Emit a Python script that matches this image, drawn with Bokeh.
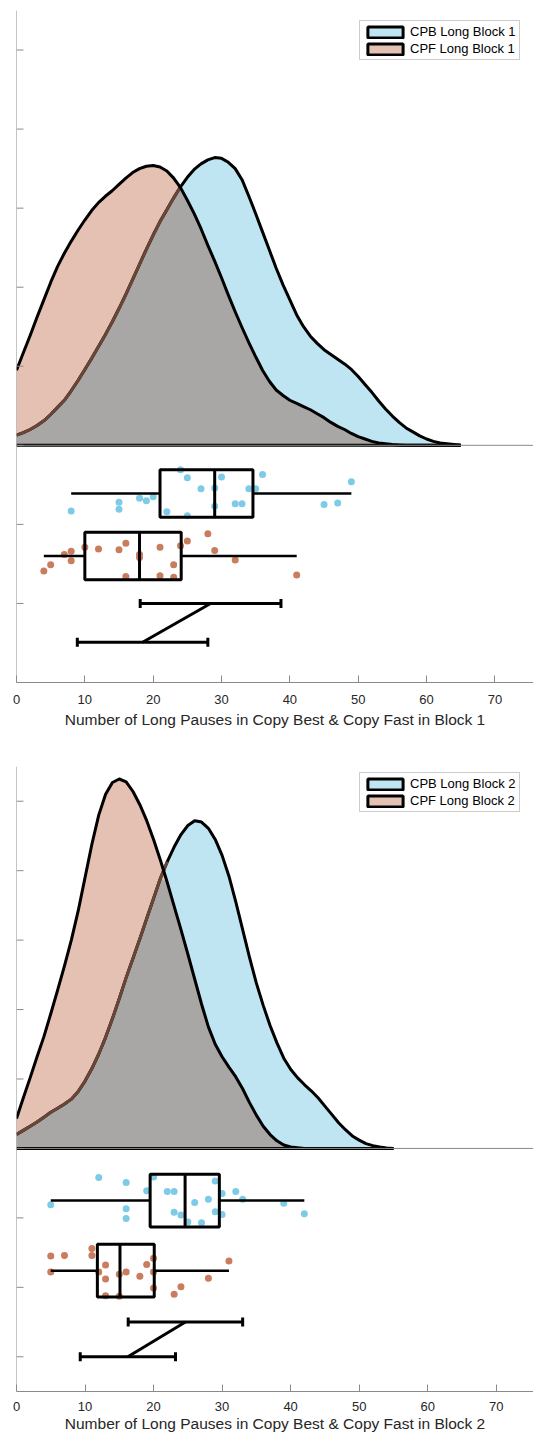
import numpy as np
from bokeh.plotting import figure
from bokeh.layouts import column
from bokeh.models import (FixedTicker, Span, Whisker, TeeHead, Legend, LegendItem,
                          ColumnDataSource, Range1d)
from bokeh.embed import file_html
from bokeh.resources import INLINE

# ---------------- Block 1 ----------------
grid_b1 = list(range(0, 66))          # number of long pauses (density sample positions)
cpb_density_b1 = [0.13, 0.16, 0.20, 0.25, 0.31, 0.39, 0.48, 0.57, 0.69, 0.82,
                  0.96, 1.10, 1.25, 1.40, 1.56, 1.73, 1.91, 2.10, 2.29, 2.48,
                  2.66, 2.83, 2.98, 3.13, 3.27, 3.39, 3.49, 3.56, 3.61, 3.64,
                  3.63, 3.58, 3.50, 3.36, 3.15, 2.93, 2.70, 2.47, 2.24, 2.03,
                  1.84, 1.65, 1.50, 1.38, 1.29, 1.21, 1.15, 1.09, 1.03, 0.96,
                  0.87, 0.77, 0.67, 0.56, 0.46, 0.37, 0.29, 0.22, 0.17, 0.12,
                  0.08, 0.05, 0.03, 0.02, 0.01, 0.0]
cpf_density_b1 = [0.95, 1.17, 1.39, 1.62, 1.84, 2.06, 2.26, 2.43, 2.58, 2.72,
                  2.85, 2.97, 3.07, 3.15, 3.22, 3.30, 3.38, 3.45, 3.50, 3.53,
                  3.54, 3.52, 3.47, 3.38, 3.26, 3.10, 2.93, 2.74, 2.53, 2.33,
                  2.12, 1.90, 1.69, 1.49, 1.30, 1.12, 0.95, 0.81, 0.70, 0.63,
                  0.57, 0.53, 0.49, 0.45, 0.40, 0.35, 0.29, 0.24, 0.20, 0.15,
                  0.11, 0.08, 0.05, 0.03, 0.02, 0.01, 0.005, 0.0, 0.0, 0.0,
                  0.0, 0.0, 0.0, 0.0, 0.0, 0.0]
cpb_pauses_b1 = [24, 25, 30, 36, 49, 27, 29, 34, 35, 20, 18, 19, 15, 15, 8, 22, 25, 29, 32, 33, 45, 47]
cpb_jitter_b1 = [-0.31, -0.41, -0.40, -0.37, -0.46, -0.55, -0.54, -0.55, -0.55, -0.65, -0.67,
                 -0.70, -0.72, -0.81, -0.83, -0.84, -0.89, -0.77, -0.74, -0.74, -0.75, -0.73]
cpf_pauses_b1 = [28, 25, 16, 10, 12, 15, 21, 24, 29, 8, 7, 18, 18, 8, 32, 5, 23, 4, 16, 21, 23, 41]
cpf_jitter_b1 = [-1.12, -1.21, -1.24, -1.29, -1.31, -1.32, -1.29, -1.27, -1.33, -1.34, -1.38,
                 -1.38, -1.42, -1.46, -1.45, -1.51, -1.51, -1.59, -1.66, -1.65, -1.67, -1.64]
box_q1_b1 = [21.0, 10.0]
box_med_b1 = [29.0, 18.0]
box_q3_b1 = [34.6, 24.1]
whisk_lo_b1 = [8.0, 4.0]
whisk_hi_b1 = [49.0, 41.0]
box_pos_b1 = [-0.61, -1.40]
mean_b1 = [28.4, 18.45]
sd_b1 = [10.3, 9.55]
mean_pos_b1 = [-2.0, -2.49]

# ---------------- Block 2 ----------------
grid_b2 = list(range(0, 56))
cpb_density_b2 = [0.20, 0.26, 0.32, 0.38, 0.45, 0.52, 0.58, 0.64, 0.71, 0.82,
                  0.97, 1.15, 1.36, 1.60, 1.87, 2.16, 2.46, 2.74, 3.02, 3.31,
                  3.60, 3.89, 4.13, 4.34, 4.52, 4.65, 4.72, 4.70, 4.61, 4.45,
                  4.22, 3.92, 3.55, 3.15, 2.75, 2.38, 2.06, 1.77, 1.52, 1.30,
                  1.14, 1.02, 0.92, 0.83, 0.73, 0.61, 0.49, 0.37, 0.27, 0.18,
                  0.12, 0.07, 0.04, 0.02, 0.005, 0.0]
cpf_density_b2 = [0.43, 0.73, 1.02, 1.32, 1.61, 1.94, 2.28, 2.63, 3.00, 3.42,
                  3.90, 4.38, 4.80, 5.10, 5.27, 5.32, 5.28, 5.14, 4.95, 4.72,
                  4.45, 4.15, 3.83, 3.49, 3.15, 2.80, 2.44, 2.08, 1.75, 1.50,
                  1.32, 1.17, 1.03, 0.86, 0.66, 0.48, 0.32, 0.20, 0.11, 0.05,
                  0.02, 0.01, 0.0, 0.0, 0.0, 0.0, 0.0, 0.0, 0.0, 0.0,
                  0.0, 0.0, 0.0, 0.0, 0.0, 0.0]
cpb_pauses_b2 = [12, 16, 20, 29, 19, 22, 23, 30, 32, 33, 28, 26, 5, 39, 16, 42, 23, 29, 30, 24, 16, 25, 27]
cpb_jitter_b2 = [-0.42, -0.49, -0.41, -0.47, -0.61, -0.62, -0.62, -0.65, -0.62, -0.73, -0.73, -0.78,
                 -0.81, -0.79, -0.87, -0.94, -0.92, -0.91, -0.95, -0.96, -1.01, -1.06, -1.07]
cpf_pauses_b2 = [11, 5, 7, 11, 20, 31, 13, 19, 5, 12, 16, 15, 20, 18, 28, 13, 24, 20, 23, 13, 15]
cpf_jitter_b2 = [-1.44, -1.55, -1.54, -1.54, -1.58, -1.62, -1.68, -1.67, -1.78, -1.78, -1.78,
                 -1.81, -1.78, -1.84, -1.87, -1.88, -1.99, -2.01, -2.10, -2.12, -2.13]
box_q1_b2 = [19.5, 11.8]
box_med_b2 = [24.6, 15.1]
box_q3_b2 = [29.6, 20.1]
whisk_lo_b2 = [5.0, 5.0]
whisk_hi_b2 = [42.0, 31.0]
box_pos_b2 = [-0.75, -1.76]
mean_b2 = [24.65, 16.25]
sd_b2 = [8.35, 6.95]
mean_pos_b2 = [-2.5, -3.0]

x_ticks = [0, 10, 20, 30, 40, 50, 60, 70]

# ---------------- styles ----------------
BLUE_FILL = "#bfe5f2"
PINK_FILL = "#e5c1b4"
OVERLAP = "#a9a7a6"
BROWN = "#6b4536"
BLUE_DOT = "#7ecbe7"
PINK_DOT = "#c97c5e"
AXIS_GREY = "#8a8a8a"
TEXT = "#262626"
FONT = "Liberation Sans"
LW = 3


def raincloud(grid, dens_b, dens_f, xb, jb, xf, jf, q1, med, q3, wlo, whi, bpos,
              means, sds, mpos, labels, xlabel, width, height, border_left, border_top,
              border_bottom, x_end, y_start, y_end, box_half, legend_loc,
              tick_standoff, label_standoff):
    p = figure(width=width, height=height, output_backend="svg", toolbar_location=None,
               x_range=Range1d(0, x_end), y_range=Range1d(y_start, y_end),
               y_axis_location=None,
               min_border_left=border_left, min_border_right=0,
               min_border_top=border_top, min_border_bottom=border_bottom)
    p.outline_line_color = None
    p.xgrid.visible = False
    p.ygrid.visible = False
    p.background_fill_color = "white"

    g = np.array(grid, dtype=float)
    b = np.array(dens_b, dtype=float)
    f = np.array(dens_f, dtype=float)

    p.add_layout(Span(location=0, dimension="width", line_color=AXIS_GREY, line_width=1))

    px = list(g) + [g[-1], g[0]]
    p.patch(px, list(b) + [0, 0], fill_color=BLUE_FILL, line_color=None)
    p.patch(px, list(f) + [0, 0], fill_color=PINK_FILL, line_color=None)
    p.patch(px, list(np.minimum(b, f)) + [0, 0], fill_color=OVERLAP, line_color=None)

    p.line(g, b, line_color="black", line_width=LW, line_join="round")
    under = b < f - 1e-9
    under_d = under | np.roll(under, 1) | np.roll(under, -1)
    p.line(g, np.where(under_d, b, np.nan), line_color=BROWN, line_width=LW, line_join="round")
    p.line(g, f, line_color="black", line_width=LW, line_join="round")
    p.line([g[0], g[-1]], [0, 0], line_color="black", line_width=LW)

    # rain (jittered points)
    p.scatter(xb, jb, size=7, fill_color=BLUE_DOT, line_color=None)
    p.scatter(xf, jf, size=7, fill_color=PINK_DOT, line_color=None)

    # box plots
    bp = np.array(bpos)
    p.segment(wlo, bp, q1, bp, line_color="black", line_width=2.5)
    p.segment(q3, bp, whi, bp, line_color="black", line_width=2.5)
    p.quad(left=q1, right=q3, bottom=list(bp - box_half), top=list(bp + box_half),
           fill_color=None, line_color="black", line_width=LW)
    p.segment(med, list(bp - box_half), med, list(bp + box_half), line_color="black", line_width=LW)

    # mean +/- sd with connection
    m = np.array(means)
    s = np.array(sds)
    src = ColumnDataSource(dict(base=mpos, lower=list(m - s), upper=list(m + s)))
    wh = Whisker(source=src, base="base", lower="lower", upper="upper", dimension="width",
                 line_color="black", line_width=LW,
                 upper_head=TeeHead(size=9, line_color="black", line_width=LW),
                 lower_head=TeeHead(size=9, line_color="black", line_width=LW))
    p.add_layout(wh)
    p.line(means, mpos, line_color="black", line_width=LW)

    # legend proxies (one undrawn point each, so only the swatch shows)
    lb = p.patch(np.array([np.nan]), np.array([np.nan]), fill_color=BLUE_FILL,
                 line_color="black", line_width=3)
    lf = p.patch(np.array([np.nan]), np.array([np.nan]), fill_color=PINK_FILL,
                 line_color="black", line_width=3)
    leg = Legend(items=[LegendItem(label=labels[0], renderers=[lb]),
                        LegendItem(label=labels[1], renderers=[lf])],
                 location=legend_loc, label_text_font=FONT, label_text_font_size="13px",
                 label_text_color="black", glyph_width=44, glyph_height=14, label_height=15,
                 spacing=2, padding=3, margin=0, label_standoff=3,
                 border_line_color="#9a9a9a", border_line_width=1,
                 background_fill_color="white", background_fill_alpha=1)
    p.add_layout(leg)

    # x axis
    p.xaxis.ticker = FixedTicker(ticks=x_ticks)
    p.xaxis.minor_tick_line_color = None
    p.xaxis.major_tick_in = 7
    p.xaxis.major_tick_out = 0
    p.xaxis.axis_line_color = AXIS_GREY
    p.xaxis.major_tick_line_color = AXIS_GREY
    p.xaxis.major_label_text_font = FONT
    p.xaxis.major_label_text_font_size = "13px"
    p.xaxis.major_label_text_color = TEXT
    p.xaxis.major_label_standoff = tick_standoff
    p.xaxis.axis_label = xlabel
    p.xaxis.axis_label_text_font = FONT
    p.xaxis.axis_label_text_font_size = "15.5px"
    p.xaxis.axis_label_text_font_style = "normal"
    p.xaxis.axis_label_text_color = TEXT
    p.xaxis.axis_label_standoff = label_standoff

    # y axis: plain line with inward ticks, no labels
    y_ticks = list(range(int(np.ceil(y_start)), int(np.floor(y_end)) + 1))
    p.add_layout(Span(location=0, dimension="height", line_color=AXIS_GREY, line_width=1))
    p.ray(x=[0] * len(y_ticks), y=y_ticks, length=7, length_units="screen", angle=0,
          line_color=AXIS_GREY, line_width=1)
    return p


p1 = raincloud(grid_b1, cpb_density_b1, cpf_density_b1,
               cpb_pauses_b1, cpb_jitter_b1, cpf_pauses_b1, cpf_jitter_b1,
               box_q1_b1, box_med_b1, box_q3_b1, whisk_lo_b1, whisk_hi_b1, box_pos_b1,
               mean_b1, sd_b1, mean_pos_b1,
               ["CPB Long Block 1", "CPF Long Block 1"],
               "Number of Long Pauses in Copy Best & Copy Fast in Block 1",
               width=533, height=740, border_left=15, border_top=10, border_bottom=58,
               x_end=75.65, y_start=-3, y_end=5.5, box_half=0.30, legend_loc=(343, 622),
               tick_standoff=12, label_standoff=4)

p2 = raincloud(grid_b2, cpb_density_b2, cpf_density_b2,
               cpb_pauses_b2, cpb_jitter_b2, cpf_pauses_b2, cpf_jitter_b2,
               box_q1_b2, box_med_b2, box_q3_b2, whisk_lo_b2, whisk_hi_b2, box_pos_b2,
               mean_b2, sd_b2, mean_pos_b2,
               ["CPB Long Block 2", "CPF Long Block 2"],
               "Number of Long Pauses in Copy Best & Copy Fast in Block 2",
               width=533, height=694, border_left=16, border_top=26, border_bottom=43,
               x_end=75.44, y_start=-3.5, y_end=5.5, box_half=0.38, legend_loc=(343, 579),
               tick_standoff=10, label_standoff=1)

layout = column(p1, p2, spacing=0)
open("out.html", "w").write(file_html(layout, INLINE))
